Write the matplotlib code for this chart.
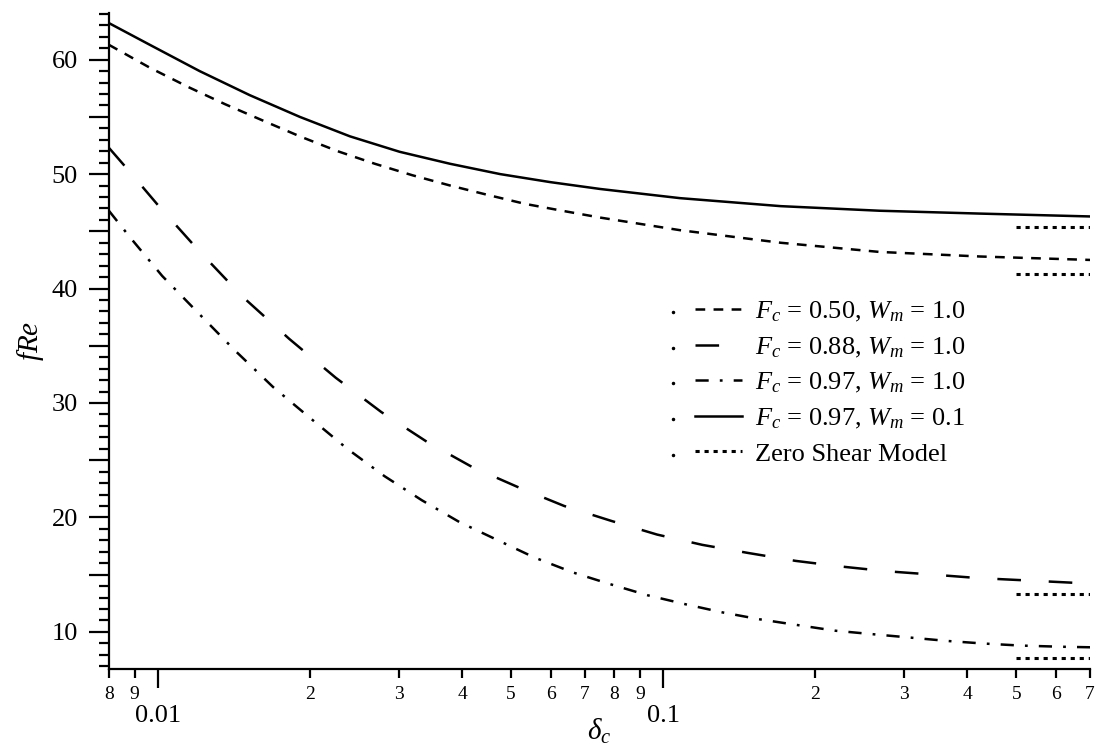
import matplotlib
matplotlib.use('Agg')
import matplotlib.pyplot as plt
import numpy as np
from matplotlib.ticker import FixedLocator, FixedFormatter, FuncFormatter

plt.rcParams['font.family'] = ['Liberation Serif', 'DejaVu Serif']
plt.rcParams['mathtext.fontset'] = 'custom'
plt.rcParams['mathtext.rm'] = 'Liberation Serif'
plt.rcParams['mathtext.it'] = 'Liberation Serif:italic'
plt.rcParams['lines.scale_dashes'] = False

# data (delta_c, fRe)
x_fc050 = [0.008, 0.00964, 0.0115, 0.0136, 0.0161, 0.0191, 0.0227, 0.0269, 0.0319,
           0.0379, 0.0448, 0.0533, 0.0631, 0.0751, 0.108, 0.171, 0.268, 0.424, 0.70]
y_fc050 = [61.3, 59.3, 57.6, 56.1, 54.7, 53.3, 52.0, 50.9, 49.9,
           49.0, 48.2, 47.4, 46.8, 46.2, 45.1, 44.0, 43.2, 42.8, 42.5]

x_fc088 = [0.008, 0.00868, 0.010, 0.012, 0.0147, 0.0182, 0.0225, 0.0277, 0.0341, 0.0419,
           0.0519, 0.0637, 0.0789, 0.0973, 0.1196, 0.147, 0.183, 0.226, 0.276, 0.342,
           0.42, 0.52, 0.641, 0.70]
y_fc088 = [52.3, 50.5, 47.3, 43.4, 39.3, 35.6, 32.2, 29.2, 26.6, 24.4,
           22.6, 21.0, 19.7, 18.5, 17.6, 16.9, 16.2, 15.7, 15.3, 15.0,
           14.7, 14.5, 14.3, 14.2]

x_fc097 = [0.008, 0.0088, 0.0102, 0.0120, 0.0142, 0.0169, 0.0200, 0.0237, 0.0281, 0.0333,
           0.0395, 0.0471, 0.0556, 0.0662, 0.0781, 0.0931, 0.111, 0.131, 0.155, 0.184,
           0.219, 0.259, 0.308, 0.366, 0.43, 0.51, 0.61, 0.70]
y_fc097 = [46.8, 44.5, 41.1, 37.9, 34.6, 31.4, 28.7, 26.0, 23.6, 21.5,
           19.6, 18.0, 16.5, 15.2, 14.2, 13.2, 12.4, 11.7, 11.1, 10.6,
           10.1, 9.8, 9.5, 9.2, 8.98, 8.8, 8.7, 8.65]

x_wm01 = [0.008, 0.00964, 0.0121, 0.0152, 0.0191, 0.0240, 0.0301, 0.0379, 0.0476,
          0.0598, 0.0751, 0.108, 0.171, 0.268, 0.424, 0.70]
y_wm01 = [63.2, 61.3, 59.0, 56.9, 55.0, 53.3, 51.95, 50.9, 50.0,
          49.3, 48.7, 47.9, 47.2, 46.8, 46.55, 46.3]

zero_shear_x = [0.5, 0.7]
zero_shear_fre = [45.4, 41.3, 13.3, 7.7]

labels = [r'$F_c$ = 0.50, $W_m$ = 1.0',
          r'$F_c$ = 0.88, $W_m$ = 1.0',
          r'$F_c$ = 0.97, $W_m$ = 1.0',
          r'$F_c$ = 0.97, $W_m$ = 0.1',
          'Zero Shear Model']

x_major = [0.01, 0.1]
x_major_labels = ['0.01', '0.1']
x_minor = [0.008, 0.009, 0.02, 0.03, 0.04, 0.05, 0.06, 0.07, 0.08, 0.09,
           0.2, 0.3, 0.4, 0.5, 0.6, 0.7]

fig = plt.figure(figsize=(11, 7.51), dpi=100)
ax = fig.add_axes([0.099, 0.109, 0.892, 0.874])

lw = 1.8
l1, = ax.plot(x_fc050, y_fc050, color='k', lw=lw, dashes=(7, 6))
l2, = ax.plot(x_fc088, y_fc088, color='k', lw=lw, dashes=(17, 20))
l3, = ax.plot(x_fc097, y_fc097, color='k', lw=lw, dashes=(9.5, 8, 2, 8))
l4, = ax.plot(x_wm01, y_wm01, color='k', lw=lw)
for v in zero_shear_fre:
    l5, = ax.plot(zero_shear_x, [v, v], color='k', lw=2.2, dashes=(3, 3.5))

ax.set_xscale('log')
ax.set_xlim(0.008, 0.7)
ax.set_ylim(6.74, 64.1)

ax.spines['top'].set_visible(False)
ax.spines['right'].set_visible(False)
ax.spines['left'].set_linewidth(1.6)
ax.spines['bottom'].set_linewidth(1.6)

ax.xaxis.set_major_locator(FixedLocator(x_major))
ax.xaxis.set_major_formatter(FixedFormatter(x_major_labels))
ax.xaxis.set_minor_locator(FixedLocator(x_minor))
ax.xaxis.set_minor_formatter(FuncFormatter(lambda v, p: '%d' % round(v / 10 ** np.floor(np.log10(v) + 1e-9))))
ax.tick_params(axis='x', which='major', direction='out', length=13.7, width=1.6,
               labelsize=19, pad=12)
ax.tick_params(axis='x', which='minor', direction='out', length=6.5, width=1.6,
               labelsize=14, pad=5.5)

ax.yaxis.set_major_locator(FixedLocator(np.arange(10, 61, 5)))
ax.yaxis.set_major_formatter(FuncFormatter(lambda v, p: '%d' % v if v % 10 == 0 else ''))
ax.yaxis.set_minor_locator(FixedLocator(np.arange(7, 65, 1)))
ax.tick_params(axis='y', which='major', direction='out', length=14.4, width=1.6,
               labelsize=19, pad=8)
ax.tick_params(axis='y', which='minor', direction='out', length=7.2, width=1.6)
for t in ax.yaxis.get_major_ticks():
    if round(t.get_loc()) % 10 != 0:
        t.tick1line.set_markersize(10.8)

ax.set_xlabel(r'$\delta_c$', fontsize=21, labelpad=-7)
ax.set_ylabel(r'$fRe$', fontsize=21, labelpad=4)

leg = ax.legend([l1, l2, l3, l4, l5], labels, loc='upper left',
                bbox_to_anchor=(0.597, 0.5625), frameon=False, fontsize=19,
                handlelength=1.78, handletextpad=0.49, borderpad=0,
                borderaxespad=0, labelspacing=0.43)

# small dots to the left of each legend row
fig.canvas.draw()
renderer = fig.canvas.get_renderer()
inv = ax.transAxes.inverted()
for t in leg.get_texts():
    bb = t.get_window_extent(renderer)
    yc = inv.transform((0, (bb.y0 + bb.y1) / 2))[1]
    ax.plot([0.575], [yc], 'k.', ms=3, transform=ax.transAxes, clip_on=False)

fig.savefig('out.png', dpi=100)
